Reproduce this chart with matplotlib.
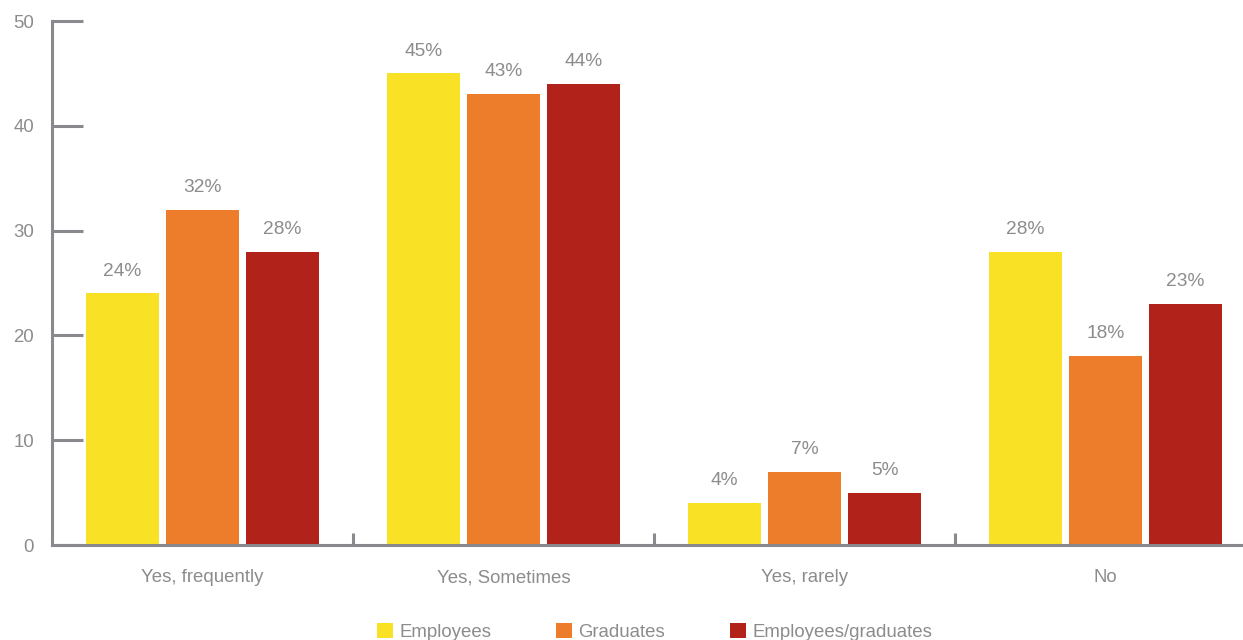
import matplotlib
matplotlib.use("Agg")
import matplotlib.pyplot as plt
from matplotlib.patches import Patch
import numpy as np

categories = ["Yes, frequently", "Yes, Sometimes", "Yes, rarely", "No"]
series_names = ["Employees", "Graduates", "Employees/graduates"]
employees = [24, 45, 4, 28]
graduates = [32, 43, 7, 18]
employees_graduates = [28, 44, 5, 23]
y_ticks = [0, 10, 20, 30, 40, 50]

colors = ["#F9E225", "#EE7D2B", "#B1221A"]
gray = "#8A8A8E"
text_gray = "#8C8C8C"
fs = 13.4

plt.rcParams["font.family"] = ["Liberation Sans", "DejaVu Sans"]

W, H = 1243, 640
fig = plt.figure(figsize=(W / 100, H / 100), dpi=100)
ax = fig.add_axes([52 / W, 95 / H, (W - 52) / W, 524 / H])

x = np.arange(len(categories))
width = 0.2425
step = 0.266
for i, (vals, c) in enumerate(zip([employees, graduates, employees_graduates], colors)):
    pos = x + (i - 1) * step
    ax.bar(pos, vals, width=width, color=c, zorder=2)
    for px, v in zip(pos, vals):
        ax.annotate(f"{v}%", (px, v), xytext=(0, 10), textcoords="offset points",
                    ha="center", va="bottom", fontsize=fs + 0.4, color=text_gray)

ax.set_xlim(-0.5, 3.5 - 13 / 301)
ax.set_ylim(0, 50)

for s in ["top", "right"]:
    ax.spines[s].set_visible(False)
for s in ["left", "bottom"]:
    ax.spines[s].set_color(gray)
    ax.spines[s].set_linewidth(2.2)
    ax.spines[s].set_zorder(3)

ax.set_yticks(y_ticks)
ax.tick_params(axis="y", direction="in", length=22, width=2.2, color=gray,
               labelcolor=text_gray, labelsize=fs, pad=13)

# boundaries between groups as major ticks, group names as minor ticks
ax.set_xticks([0.5, 1.5, 2.5])
ax.set_xticklabels([])
ax.tick_params(axis="x", which="major", direction="in", length=9, width=2.2, color=gray)
ax.set_xticks(x, minor=True)
ax.set_xticklabels(categories, minor=True)
ax.tick_params(axis="x", which="minor", length=0, labelcolor=text_gray,
               labelsize=fs, pad=17.5)

handles = [Patch(facecolor=c, edgecolor="none") for c in colors]
fig.legend(handles, series_names, loc="center", bbox_to_anchor=(654.5 / W, 1 - 632 / H),
           ncol=3, frameon=False, fontsize=fs, labelcolor=text_gray,
           handlelength=0.85, handleheight=0.85, handletextpad=0.33,
           columnspacing=3.5, borderpad=0, borderaxespad=0)

fig.savefig("out.png", dpi=100)
